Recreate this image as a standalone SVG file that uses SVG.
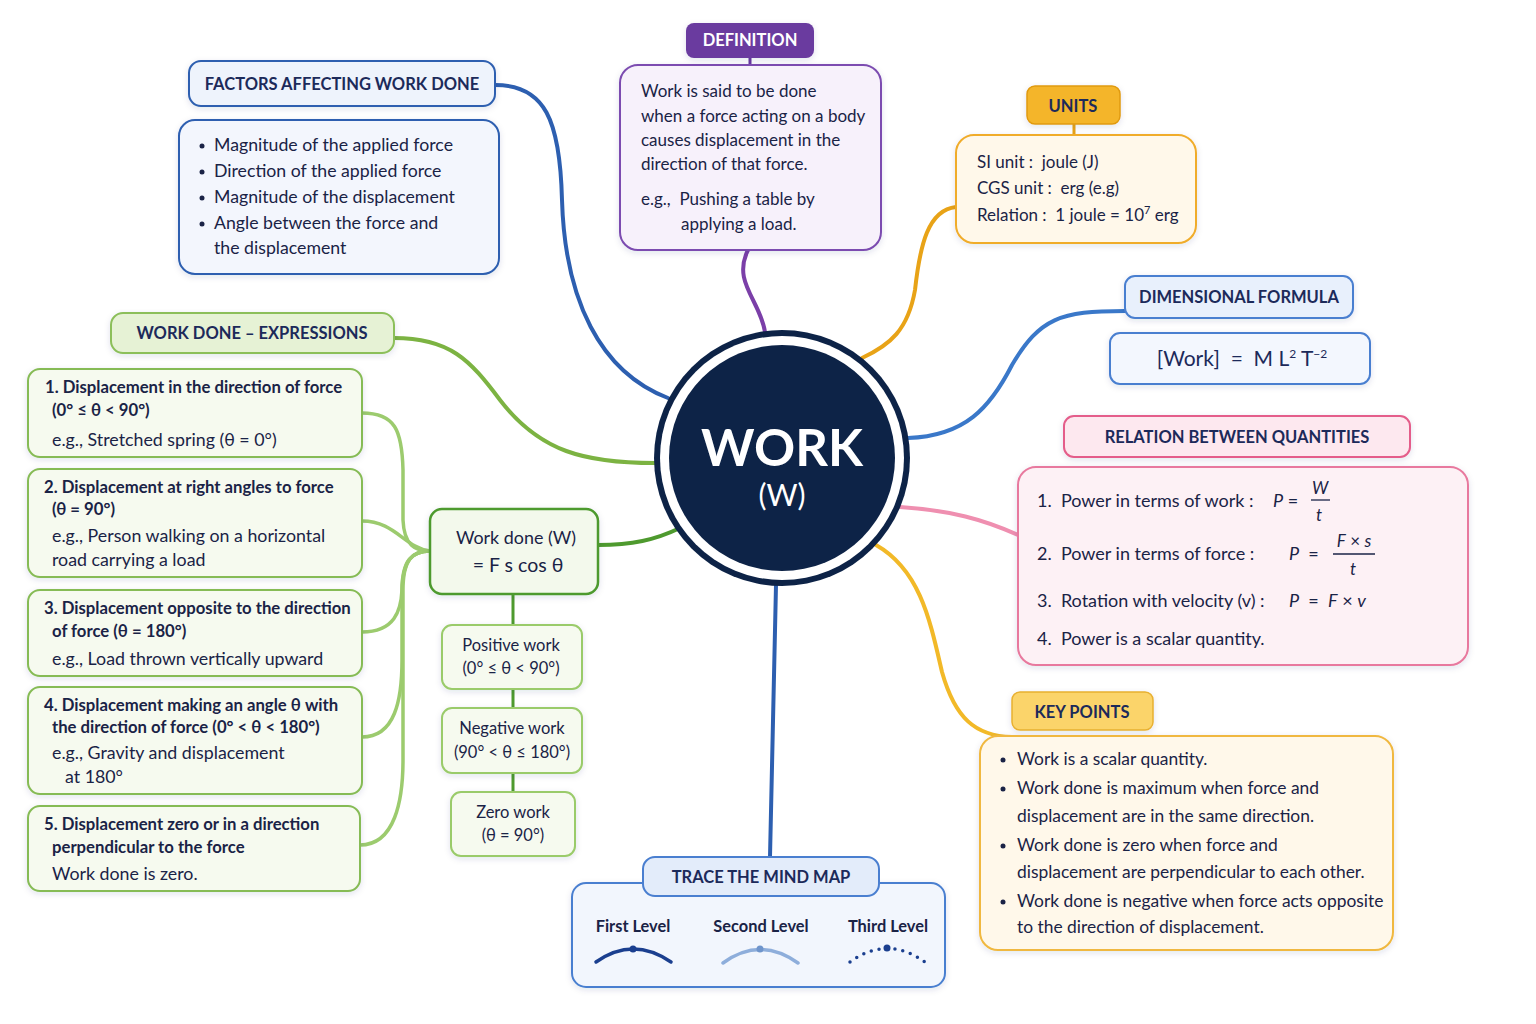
<svg xmlns="http://www.w3.org/2000/svg" width="1536" height="1024" viewBox="0 0 1536 1024" xml:space="preserve">
<defs>
<filter id="sh" x="-10%" y="-10%" width="120%" height="130%">
<feDropShadow dx="0" dy="2" stdDeviation="3" flood-color="#1a2a5e" flood-opacity="0.12"/>
</filter>
<style>
text{font-family:"Lato","Open Sans","Liberation Sans",sans-serif;fill:#1a2346;white-space:pre}
.hd{font-weight:700;font-size:16.5px;text-anchor:middle;fill:#1c2a5a}
.b{font-size:17.7px}
.bd{font-weight:700}
.c{text-anchor:middle}
.it{font-style:italic}
.conn{fill:none;stroke-linecap:round}
.gbox{fill:#f6faef;stroke:#86bb55;stroke-width:2}
.ex{font-size:16.7px}
.er{font-size:17.8px}
</style>
</defs>
<rect width="1536" height="1024" fill="#ffffff"/>

<g id="connectors" class="conn">
<path d="M495,85 C545,85 560,120 562,200 C565,300 600,372 668,398" stroke="#2d5fb0" stroke-width="4"/>
<path d="M748,250 C732,282 760,300 765,332" stroke="#7b3fa8" stroke-width="4"/>
<line x1="750" y1="58" x2="750" y2="66" stroke="#6a3a9f" stroke-width="3"/>
<path d="M956,207 C928,210 920,245 915,290 C908,330 890,345 862,358" stroke="#e8a317" stroke-width="4"/>
<line x1="1074" y1="124" x2="1074" y2="136" stroke="#e8a317" stroke-width="3"/>
<path d="M1125,311 C1060,311 1040,318 1012,365 C990,408 965,436 908,438" stroke="#3a78c9" stroke-width="4"/>
<path d="M900,507 C950,510 985,520 1018,535" stroke="#ef8fb0" stroke-width="4"/>
<path d="M876,545 C920,570 930,620 942,672 C955,718 975,736 1012,737" stroke="#f2b928" stroke-width="4"/>
<path d="M776,585 L770,857" stroke="#2d5fb0" stroke-width="4"/>
<path d="M394,338 C450,338 470,360 500,400 C540,452 585,463 655,463" stroke="#7cb342" stroke-width="4"/>
<path d="M598,545 C632,545 655,540 680,528" stroke="#4e9a2e" stroke-width="4"/>
<g stroke="#9ccb6e" stroke-width="3.5">
<path d="M362,413 C395,413 402,430 403,470 L403,520 C404,545 415,551 430,551"/>
<path d="M362,521 C395,521 405,548 430,551"/>
<path d="M362,632 C395,632 401,610 402,590 C403,560 412,551 430,551"/>
<path d="M362,737 C395,737 402,700 402,660 L402,590 C402,560 412,551 430,551"/>
<path d="M360,845 C395,845 403,800 403,760 L403,590 C403,560 412,551 430,551"/>
</g>
<g stroke="#4e9a2e" stroke-width="3">
<line x1="513" y1="594" x2="513" y2="625"/>
<line x1="513" y1="689" x2="513" y2="708"/>
<line x1="513" y1="773" x2="513" y2="792"/>
</g>
</g>

<g id="center">
<circle cx="782" cy="458" r="128" fill="#0d2347"/>
<circle cx="782" cy="458" r="122" fill="#ffffff"/>
<circle cx="782" cy="458" r="113" fill="#0d2347"/>
<text x="782" y="466" class="c bd" font-size="51" style="fill:#ffffff">WORK</text>
<text x="782" y="506" class="c" font-size="30" style="fill:#ffffff">(W)</text>
</g>

<g id="factors-header">
<rect x="189" y="61" width="306" height="45" rx="12" fill="#eef3fc" stroke="#2d5fb0" stroke-width="2" filter="url(#sh)"/>
<text x="342" y="90" class="hd">FACTORS AFFECTING WORK DONE</text>
</g>
<g id="factors-list">
<rect x="179" y="120" width="320" height="154" rx="16" fill="#f3f6fd" stroke="#2d5fb0" stroke-width="2" filter="url(#sh)"/>
<g class="b">
<circle cx="202" cy="146" r="2.5" fill="#1a2346"/>
<circle cx="202" cy="172" r="2.5" fill="#1a2346"/>
<circle cx="202" cy="198" r="2.5" fill="#1a2346"/>
<circle cx="202" cy="224" r="2.5" fill="#1a2346"/>
<text x="214" y="151">Magnitude of the applied force</text>
<text x="214" y="177">Direction of the applied force</text>
<text x="214" y="203">Magnitude of the displacement</text>
<text x="214" y="229">Angle between the force and</text>
<text x="214" y="254">the displacement</text>
</g>
</g>

<g id="definition-header">
<rect x="686" y="23" width="128" height="35" rx="8" fill="#6a3a9f" filter="url(#sh)"/>
<text x="750" y="46" class="hd" font-size="16.7" style="fill:#ffffff">DEFINITION</text>
</g>
<g id="definition">
<rect x="620" y="65" width="261" height="185" rx="18" fill="#f7f1fb" stroke="#7b4bb0" stroke-width="2" filter="url(#sh)"/>
<g font-size="17">
<text x="641" y="97">Work is said to be done</text>
<text x="641" y="122">when a force acting on a body</text>
<text x="641" y="146">causes displacement in the</text>
<text x="641" y="170">direction of that force.</text>
<text x="641" y="205">e.g.,  Pushing a table by</text>
<text x="681" y="230">applying a load.</text>
</g>
</g>

<g id="units-header">
<rect x="1027" y="86" width="93" height="38" rx="8" fill="#f4b52a" stroke="#e09a10" stroke-width="1.5" filter="url(#sh)"/>
<text x="1073" y="112" class="hd" font-size="18.5">UNITS</text>
</g>
<g id="units">
<rect x="956" y="135" width="240" height="108" rx="18" fill="#fff8ea" stroke="#f0ac2c" stroke-width="2" filter="url(#sh)"/>
<g font-size="17">
<text x="977" y="168">SI unit :  joule (J)</text>
<text x="977" y="194">CGS unit :  erg (e.g)</text>
<text x="977" y="221">Relation :  1 joule = 10<tspan font-size="11" dy="-7">7</tspan><tspan dy="7"> erg</tspan></text>
</g>
</g>

<g id="dimensional-header">
<rect x="1125" y="276" width="228" height="42" rx="10" fill="#e8f0fc" stroke="#4a7fd0" stroke-width="2" filter="url(#sh)"/>
<text x="1239" y="303" class="hd" font-size="16">DIMENSIONAL FORMULA</text>
</g>
<g id="dimensional">
<rect x="1110" y="333" width="260" height="51" rx="10" fill="#f3f7fe" stroke="#4a7fd0" stroke-width="2" filter="url(#sh)"/>
<text x="1242" y="366" class="c" font-size="21" style="fill:#1c2a5a">[Work]  =  M L<tspan font-size="12" dy="-8">2</tspan><tspan dy="8"> T</tspan><tspan font-size="12" dy="-8">−2</tspan></text>
</g>

<g id="relation-header">
<rect x="1064" y="416" width="346" height="41" rx="10" fill="#fde8ef" stroke="#e45d8a" stroke-width="2" filter="url(#sh)"/>
<text x="1237" y="443" class="hd" font-size="18.2">RELATION BETWEEN QUANTITIES</text>
</g>
<g id="relation">
<rect x="1018" y="467" width="450" height="198" rx="18" fill="#fdf1f5" stroke="#e8799e" stroke-width="2" filter="url(#sh)"/>
<g font-size="18">
<text x="1037" y="507">1.  Power in terms of work :</text>
<text x="1273" y="507"><tspan class="it">P</tspan> =</text>
<text x="1320" y="494" class="c it" font-size="17">W</text>
<line x1="1311" y1="500" x2="1330" y2="500" stroke="#1a2346" stroke-width="1.3"/>
<text x="1319" y="521" class="c it" font-size="17">t</text>
<text x="1037" y="560">2.  Power in terms of force :</text>
<text x="1289" y="560"><tspan class="it">P</tspan>  =</text>
<text x="1354" y="547" class="c" font-size="17"><tspan class="it">F</tspan> × <tspan class="it">s</tspan></text>
<line x1="1333" y1="554" x2="1375" y2="554" stroke="#1a2346" stroke-width="1.3"/>
<text x="1353" y="575" class="c it" font-size="17">t</text>
<text x="1037" y="607">3.  Rotation with velocity (v) :</text>
<text x="1289" y="607"><tspan class="it">P</tspan>  =  <tspan class="it">F</tspan> × <tspan class="it">v</tspan></text>
<text x="1037" y="645">4.  Power is a scalar quantity.</text>
</g>
</g>

<g id="keypoints-header">
<rect x="1012" y="692" width="141" height="38" rx="8" fill="#fbd46a" stroke="#e8b030" stroke-width="1.5" filter="url(#sh)"/>
<text x="1082" y="718" class="hd" font-size="19">KEY POINTS</text>
</g>
<g id="keypoints">
<rect x="980" y="736" width="413" height="214" rx="18" fill="#fff8ea" stroke="#f0b840" stroke-width="2" filter="url(#sh)"/>
<g font-size="17.4">
<circle cx="1003" cy="760" r="2.5" fill="#1a2346"/>
<circle cx="1003" cy="789" r="2.5" fill="#1a2346"/>
<circle cx="1003" cy="846" r="2.5" fill="#1a2346"/>
<circle cx="1003" cy="902" r="2.5" fill="#1a2346"/>
<text x="1017" y="765">Work is a scalar quantity.</text>
<text x="1017" y="794">Work done is maximum when force and</text>
<text x="1017" y="822">displacement are in the same direction.</text>
<text x="1017" y="851">Work done is zero when force and</text>
<text x="1017" y="878">displacement are perpendicular to each other.</text>
<text x="1017" y="907">Work done is negative when force acts opposite</text>
<text x="1017" y="933">to the direction of displacement.</text>
</g>
</g>

<g id="trace">
<rect x="572" y="883" width="373" height="104" rx="14" fill="#f2f6fd" stroke="#4a7fd0" stroke-width="2" filter="url(#sh)"/>
<rect x="643" y="857" width="236" height="39" rx="12" fill="#e3ecfa" stroke="#4a7fd0" stroke-width="2"/>
<text x="761" y="883" class="hd" font-size="17.2">TRACE THE MIND MAP</text>
<g font-size="16.4">
<text x="633" y="932" class="c bd">First Level</text>
<text x="761" y="932" class="c bd">Second Level</text>
<text x="888" y="932" class="c bd">Third Level</text>
</g>
<path d="M596,962 Q633,936 671,962" fill="none" stroke="#1b3f8f" stroke-width="3.5" stroke-linecap="round"/>
<circle cx="633" cy="949" r="3.5" fill="#1b3f8f"/>
<path d="M723,963 Q760,936 798,963" fill="none" stroke="#8eaedb" stroke-width="3.5" stroke-linecap="round"/>
<circle cx="760" cy="949" r="3.5" fill="#6f95cc"/>
<path d="M850,962 Q887,935 925,962" fill="none" stroke="#1b3f8f" stroke-width="3.5" stroke-linecap="round" stroke-dasharray="0 8"/>
<circle cx="887" cy="948" r="3.5" fill="#1b3f8f"/>
</g>

<g id="expressions-header">
<rect x="111" y="313" width="283" height="40" rx="12" fill="#e6f2d5" stroke="#8cbf5a" stroke-width="2" filter="url(#sh)"/>
<text x="252" y="339" class="hd" font-size="17">WORK DONE – EXPRESSIONS</text>
</g>
<g id="expr1">
<rect x="28" y="369" width="334" height="88" rx="12" class="gbox" filter="url(#sh)"/>
<text x="45" y="393" class="ex bd">1. Displacement in the direction of force</text>
<text x="52" y="416" class="ex bd">(0° ≤ θ &lt; 90°)</text>
<text x="52" y="446" class="er">e.g., Stretched spring (θ = 0°)</text>
</g>
<g id="expr2">
<rect x="28" y="469" width="334" height="108" rx="12" class="gbox" filter="url(#sh)"/>
<text x="44" y="493" class="ex bd">2. Displacement at right angles to force</text>
<text x="52" y="515" class="ex bd">(θ = 90°)</text>
<text x="52" y="542" class="er">e.g., Person walking on a horizontal</text>
<text x="52" y="566" class="er">road carrying a load</text>
</g>
<g id="expr3">
<rect x="28" y="590" width="334" height="86" rx="12" class="gbox" filter="url(#sh)"/>
<text x="44" y="614" class="ex bd">3. Displacement opposite to the direction</text>
<text x="52" y="637" class="ex bd">of force (θ = 180°)</text>
<text x="52" y="665" class="er">e.g., Load thrown vertically upward</text>
</g>
<g id="expr4">
<rect x="28" y="687" width="334" height="107" rx="12" class="gbox" filter="url(#sh)"/>
<text x="44" y="711" class="ex bd">4. Displacement making an angle θ with</text>
<text x="52" y="733" class="ex bd">the direction of force (0° &lt; θ &lt; 180°)</text>
<text x="52" y="759" class="er">e.g., Gravity and displacement</text>
<text x="65" y="783" class="er">at 180°</text>
</g>
<g id="expr5">
<rect x="28" y="806" width="332" height="85" rx="12" class="gbox" filter="url(#sh)"/>
<text x="44" y="830" class="ex bd">5. Displacement zero or in a direction</text>
<text x="52" y="853" class="ex bd">perpendicular to the force</text>
<text x="52" y="880" class="er">Work done is zero.</text>
</g>

<g id="workdone">
<rect x="430" y="509" width="168" height="85" rx="12" fill="#f3f9ec" stroke="#4e9a2e" stroke-width="2.5" filter="url(#sh)"/>
<text x="516" y="544" class="c" font-size="17.9">Work done (W)</text>
<text x="518" y="572" class="c" font-size="19.5">= F s cos θ</text>
</g>
<g id="positive">
<rect x="442" y="625" width="140" height="64" rx="10" fill="#f6faef" stroke="#9acb6a" stroke-width="2" filter="url(#sh)"/>
<text x="511" y="651" class="c" font-size="16.5">Positive work</text>
<text x="511" y="674" class="c" font-size="16.5">(0° ≤ θ &lt; 90°)</text>
</g>
<g id="negative">
<rect x="442" y="708" width="140" height="65" rx="10" fill="#f6faef" stroke="#9acb6a" stroke-width="2" filter="url(#sh)"/>
<text x="512" y="734" class="c" font-size="16.5">Negative work</text>
<text x="512" y="758" class="c" font-size="16.5">(90° &lt; θ ≤ 180°)</text>
</g>
<g id="zero">
<rect x="451" y="792" width="124" height="64" rx="10" fill="#f6faef" stroke="#9acb6a" stroke-width="2" filter="url(#sh)"/>
<text x="513" y="818" class="c" font-size="16.5">Zero work</text>
<text x="513" y="841" class="c" font-size="16.5">(θ = 90°)</text>
</g>
</svg>
